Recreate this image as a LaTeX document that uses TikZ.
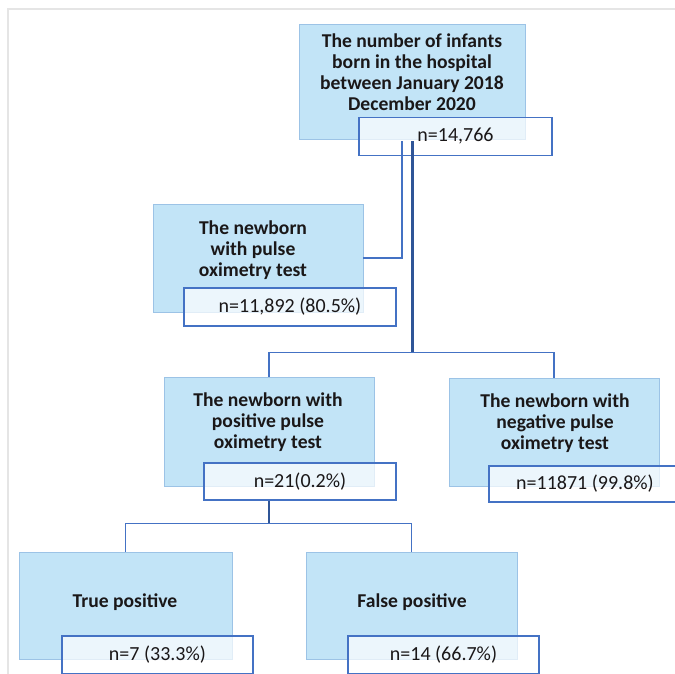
\documentclass[tikz,border=0pt]{standalone}
\usepackage{fontspec}
\setmainfont{Carlito}
\usetikzlibrary{positioning,calc}
\definecolor{panelblue}{HTML}{C2E4F7}
\definecolor{paneledge}{HTML}{9CC3E6}
\definecolor{countedge}{HTML}{4472C4}
\definecolor{trunkblue}{HTML}{2F5597}
\definecolor{inkgray}{HTML}{1A1718}

\begin{document}
\begin{tikzpicture}[x=1pt,y=-1pt,
    panel/.style={draw=paneledge,line width=0.8pt,fill=panelblue,inner sep=0pt},
    heading/.style={align=center,text=inkgray,font=\fontsize{19.6}{21}\selectfont\bfseries},
    count/.style={draw=countedge,line width=1.5pt,fill=white,fill opacity=0.7,text opacity=1,
      text=inkgray,minimum width=192,minimum height=38,inner sep=0pt,font=\fontsize{20}{22}\selectfont},
    link/.style={countedge,line width=1.5pt},
    trunk/.style={trunkblue,line width=3pt}]
    \clip (0,0) rectangle (675,673);
    \draw[gray!20,line width=2pt] (8,680) -- (8,9) -- (680,9);

    \node[panel,minimum width=226,minimum height=115] (births) at (412,81.5) {};
    \node[heading] (births title) at (412,72.5) {The number of infants\\born in the hospital\\between January 2018\\December 2020};
    \node[count,minimum width=193] (births n) at (455.5,136.5) {n=14,766};

    \node[panel,minimum width=210,minimum height=108] (pulse) at (258,258) {};
    \node[heading] (pulse title) at (253,250.5) {The newborn\\with pulse\\oximetry test};
    \node[count,minimum width=212] (pulse n) at (290,307) {n=11,892 (80.5\%)};

    \node[panel,minimum width=210,minimum height=109] (positive) at (269,431.5) {};
    \node[heading] (positive title) at (268,422.5) {The newborn with\\positive pulse\\oximetry test};
    \node[count,minimum height=37] (positive n) at (300,481.5) {n=21(0.2\%)};

    \node[panel,minimum width=210,minimum height=108] (negative) at (554,432) {};
    \node[heading] (negative title) at (555,423.5) {The newborn with\\negative pulse\\oximetry test};
    \node[count,minimum width=204,minimum height=36] (negative n) at (591,484) {n=11871 (99.8\%)\hspace*{12pt}};

    \node[panel,minimum width=213,minimum height=107] (truepos) at (125.5,605.5) {};
    \node[heading] (truepos title) at (125,602) {True positive};
    \node[count,minimum width=191] (truepos n) at (157.5,655) {n=7 (33.3\%)};

    \node[panel,minimum width=211,minimum height=107] (falsepos) at (411.5,605.5) {};
    \node[heading] (falsepos title) at (412,602) {False positive};
    \node[count,minimum width=191] (falsepos n) at (443.5,655) {n=14 (66.7\%)};

    \coordinate (tap) at (402,141);
    \coordinate (split) at (412,141);
    \coordinate (fork) at (412,353);
    \coordinate (posfork) at (269,524);

    \draw[link] (pulse.east) -| (tap);
    \draw[trunk] (split) -- (fork);
    \draw[link] (positive.north) -- ++(0,-24) -| (negative.north);
    \draw[trunk,line width=2.5pt] (positive.south |- positive n.south) -- (posfork);
    \draw[link] (truepos.north) -- ++(0,-28) -| (falsepos.north);
\end{tikzpicture}
\end{document}
